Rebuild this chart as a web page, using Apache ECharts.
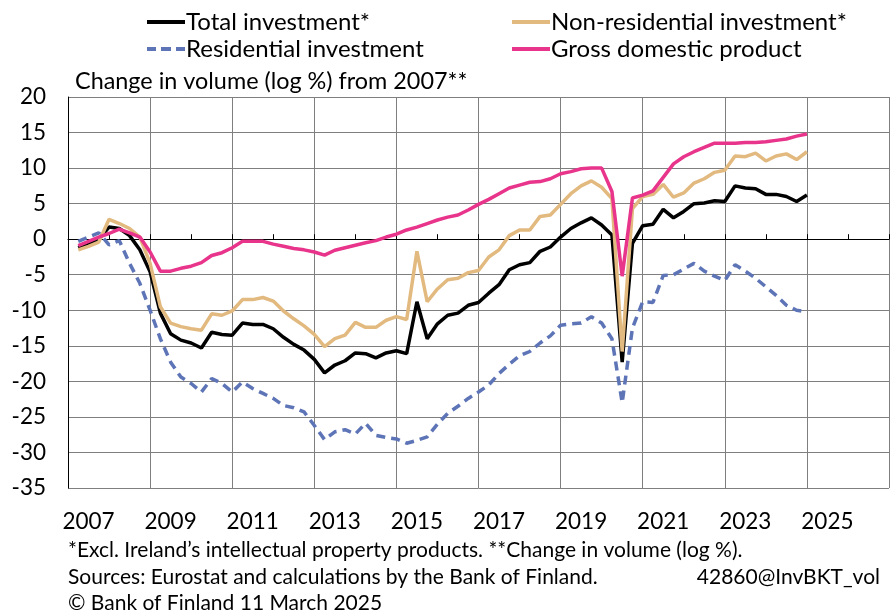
<!DOCTYPE html>
<html>
<head>
<meta charset="utf-8">
<script src="https://cdn.jsdelivr.net/npm/echarts@6/dist/echarts.min.js"></script>
<style>
  html, body { margin: 0; padding: 0; background: #fff; }
  #chart { width: 892px; height: 616px; }
</style>
</head>
<body>
<div id="chart"></div>
<script>
// quarterly data, 2007Q1 .. 2024Q4, log % change in volume from 2007
var quarters = [];
for (var y = 2007; y <= 2024; y++) {
  for (var q = 1; q <= 4; q++) quarters.push(y + 'Q' + q);
}

var totalInv = [
  -1.2, -0.6, 0.0, 1.7, 1.5, 0.5, -1.5, -4.6, -10.4, -13.3, -14.2, -14.6,
  -15.3, -13.1, -13.4, -13.5, -11.8, -12.0, -12.0, -12.6, -13.8, -14.8, -15.6, -16.9,
  -18.8, -17.7, -17.1, -16.0, -16.1, -16.7, -16.0, -15.7, -16.1, -8.8, -14.0, -11.9,
  -10.7, -10.4, -9.3, -8.9, -7.6, -6.4, -4.3, -3.6, -3.3, -1.7, -1.1, 0.3,
  1.5, 2.3, 3.0, 2.0, 0.6, -17.3, -0.6, 1.9, 2.1, 4.2, 3.0, 3.9,
  5.0, 5.1, 5.4, 5.3, 7.5, 7.2, 7.1, 6.3, 6.3, 6.0, 5.3, 6.2
];
var nonResInv = [
  -1.5, -1.0, -0.4, 2.8, 2.2, 1.5, 0.3, -3.4, -9.5, -11.8, -12.3, -12.6,
  -12.8, -10.5, -10.7, -10.1, -8.5, -8.5, -8.2, -8.7, -10.1, -11.2, -12.2, -13.4,
  -15.1, -14.0, -13.5, -11.7, -12.4, -12.4, -11.4, -10.9, -11.3, -1.7, -8.8, -7.0,
  -5.7, -5.5, -4.7, -4.4, -2.5, -1.5, 0.5, 1.3, 1.3, 3.2, 3.4, 4.9,
  6.4, 7.5, 8.2, 7.3, 5.7, -15.8, 4.3, 6.0, 6.3, 7.7, 5.9, 6.5,
  7.9, 8.5, 9.4, 9.7, 11.7, 11.6, 12.1, 11.0, 11.7, 12.0, 11.2, 12.3
];
var resInv = [
  -0.3, 0.3, 0.9, -0.8, -0.2, -3.4, -6.2, -10.0, -14.0, -17.3, -19.4, -20.3,
  -21.5, -19.6, -20.3, -21.5, -20.1, -21.0, -21.7, -22.4, -23.4, -23.7, -24.3, -26.2,
  -28.2, -27.1, -26.8, -27.4, -25.9, -27.6, -27.9, -28.1, -28.7, -28.3, -27.8, -26.0,
  -24.5, -23.5, -22.4, -21.5, -20.5, -18.9, -17.6, -16.4, -15.8, -14.6, -13.6, -12.1,
  -11.9, -11.8, -10.9, -11.8, -14.0, -23.0, -12.5, -8.8, -8.9, -5.1, -5.0, -4.2,
  -3.4, -4.5, -5.2, -5.8, -3.6, -4.5, -5.5, -6.7, -7.9, -9.3, -10.0, -10.2
];
var gdp = [
  -0.9, -0.3, 0.3, 0.8, 1.4, 0.9, 0.3, -1.8, -4.5, -4.5, -4.1, -3.8,
  -3.3, -2.3, -1.9, -1.2, -0.3, -0.3, -0.3, -0.7, -1.0, -1.3, -1.5, -1.8,
  -2.25, -1.55, -1.2, -0.85, -0.5, -0.2, 0.3, 0.7, 1.3, 1.7, 2.2, 2.7,
  3.1, 3.4, 4.1, 4.9, 5.6, 6.4, 7.2, 7.6, 8.0, 8.1, 8.5, 9.2,
  9.5, 9.9, 10.0, 10.0, 6.7, -5.2, 5.8, 6.2, 6.8, 8.7, 10.6, 11.6,
  12.3, 12.9, 13.5, 13.5, 13.5, 13.6, 13.6, 13.7, 13.9, 14.1, 14.5, 14.8
];

var yTicks = { min: -35, max: 20, step: 5 };
var xYears = { min: 2007, max: 2027, step: 2 };

var FONT = 'Lato, "Noto Sans", sans-serif';

// legend icons: a thick solid bar, and three dashes for the dashed series
var ICON_SOLID = 'path://M0,0h38v4h-38z';
var ICON_DASH = 'path://M0,0h9v4h-9z M14,0h10v4h-10z M29,0h9v4h-9z';

// quarter label -> position on the time axis (end of quarter)
function qTime(label) {
  return +label.slice(0, 4) + (+label.slice(5)) / 4;
}
function pairs(vals) {
  return quarters.map(function (lab, i) { return [qTime(lab), vals[i]]; });
}

var chart = echarts.init(document.getElementById('chart'), null, { renderer: 'canvas' });

var legendText = { fontFamily: FONT, fontSize: 24, color: '#000', padding: [0, 0, 0, -4] };

var option = {
  animation: false,
  textStyle: { fontFamily: FONT, color: '#000' },
  grid: { left: 68, right: 0, top: 97, bottom: 128 },
  legend: [
    {
      data: [
        { name: 'Total investment*', icon: ICON_SOLID },
        { name: 'Residential investment', icon: ICON_DASH }
      ],
      orient: 'vertical', left: 142, top: 5, itemGap: 3,
      itemWidth: 38, itemHeight: 4,
      textStyle: legendText
    },
    {
      data: [
        { name: 'Non-residential investment*', icon: ICON_SOLID },
        { name: 'Gross domestic product', icon: ICON_SOLID }
      ],
      orient: 'vertical', left: 507, top: 5, itemGap: 3,
      itemWidth: 38, itemHeight: 4,
      textStyle: legendText
    }
  ],
  xAxis: {
    type: 'value',
    min: xYears.min, max: xYears.max, interval: xYears.step,
    axisLine: { show: true, lineStyle: { color: '#000', width: 1 } },
    axisTick: { show: true, inside: true, length: 5, lineStyle: { color: '#000' } },
    minorTick: { show: true, splitNumber: 2, length: 5, lineStyle: { color: '#000' } },
    splitLine: { show: true, lineStyle: { color: '#7f7f7f', width: 1 } },
    axisLabel: {
      fontFamily: FONT, fontSize: 22.5, color: '#000', margin: 22,
      padding: [0, 0, 0, 41],
      formatter: function (v) { return v < xYears.max ? String(v) : ''; }
    }
  },
  yAxis: {
    type: 'value',
    min: yTicks.min, max: yTicks.max, interval: yTicks.step,
    axisLine: { show: true, lineStyle: { color: '#000', width: 1 } },
    axisTick: { show: false },
    splitLine: { show: true, lineStyle: { color: '#7f7f7f', width: 1 } },
    axisLabel: { fontFamily: FONT, fontSize: 22.5, color: '#000', margin: 22 }
  },
  graphic: [
    { type: 'text', left: 75, top: 70, style: { text: 'Change in volume (log %) from 2007**', font: '23.4px ' + FONT, fill: '#000' } },
    { type: 'text', left: 68, top: 540, style: { text: '*Excl. Ireland\u2019s intellectual property products. **Change in volume (log %).', font: '21px ' + FONT, fill: '#000' } },
    { type: 'text', left: 68, top: 567, style: { text: 'Sources: Eurostat and calculations by the Bank of Finland.', font: '21px ' + FONT, fill: '#000' } },
    { type: 'text', right: 12, top: 567, style: { text: '42860@InvBKT_vol', font: '21px ' + FONT, fill: '#000' } },
    { type: 'text', left: 68, top: 593, style: { text: '\u00a9 Bank of Finland 11 March 2025', font: '21px ' + FONT, fill: '#000' } }
  ],
  series: [
    {
      name: 'Total investment*', type: 'line', data: pairs(totalInv),
      symbol: 'none', lineStyle: { color: '#000000', width: 3.5 }, itemStyle: { color: '#000000' }
    },
    {
      name: 'Residential investment', type: 'line', data: pairs(resInv),
      symbol: 'none', lineStyle: { color: '#5d74b6', width: 3.5, type: [9, 6] }, itemStyle: { color: '#5d74b6' }
    },
    {
      name: 'Non-residential investment*', type: 'line', data: pairs(nonResInv),
      symbol: 'none', lineStyle: { color: '#e2b97f', width: 3.5 }, itemStyle: { color: '#e2b97f' }
    },
    {
      name: 'Gross domestic product', type: 'line', data: pairs(gdp),
      symbol: 'none', lineStyle: { color: '#e8348a', width: 3.5 }, itemStyle: { color: '#e8348a' }
    }
  ]
};

chart.setOption(option);
</script>
</body>
</html>
